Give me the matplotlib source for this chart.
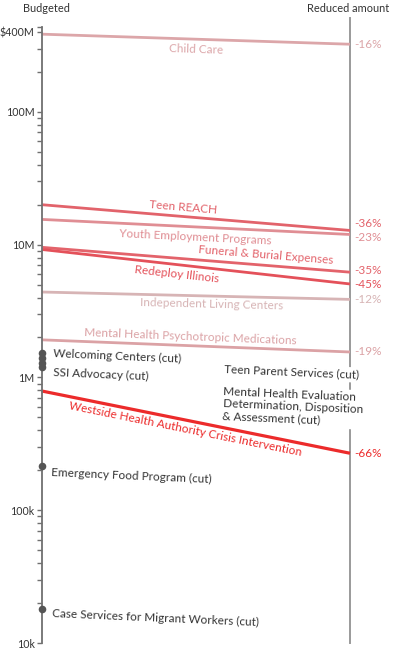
import numpy as np
import matplotlib
matplotlib.use("Agg")
import matplotlib.pyplot as plt
from matplotlib.ticker import FixedLocator, FixedFormatter, NullFormatter

# ---------------- data ----------------
programs = ["Child Care", "Teen REACH", "Youth Employment Programs",
            "Funeral & Burial Expenses", "Redeploy Illinois",
            "Independent Living Centers", "Mental Health Psychotropic Medications",
            "Westside Health Authority Crisis Intervention"]
budgeted = [385e6, 20e6, 15.5e6, 9.55e6, 9.2e6, 4.4e6, 1.92e6, 0.79e6]
pct_change = [-16, -36, -23, -35, -45, -12, -19, -66]

cut_programs = ["Welcoming Centers (cut)", "SSI Advocacy (cut)",
                "Teen Parent Services (cut)",
                "Mental Health Evaluation\nDetermination, Disposition\n& Assessment (cut)",
                "Emergency Food Program (cut)",
                "Case Services for Migrant Workers (cut)"]
cut_budgeted = [1.53e6, 1.40e6, 1.28e6, 1.20e6, 215e3, 18e3]

tick_values = [1e4, 1e5, 1e6, 1e7, 1e8, 4e8]
tick_labels = ["10k", "100k", "1M", "10M", "100M", "$400M"]

# ---------------- styles ----------------
line_colors = ["#dca6a9", "#e2636b", "#e08e94", "#e3636b", "#e4515a",
               "#d7b4b5", "#dba2a5", "#ec2b2b"]
line_widths = [2.0, 2.0, 2.0, 2.0, 2.0, 2.0, 2.0, 2.3]
# label placement: fraction along line, perpendicular offset (px, + = above)
label_t = [0.50, 0.455, 0.50, 0.725, 0.44, 0.55, 0.48, 0.47]
label_off = [-10, 9, -10, 10, -10, -8, 9, -9]
pct_dy = [0, 7, -3, 2, -1, 0, 0, 0]
# cut label offsets in px (dx, dy; + dy = up)
cut_off = [(11, -1), (11, -14), (182, -6), (181, -37), (9, -6), (10, -4)]
cut_mask = [False, False, True, True, False, False]

plt.rcParams["font.family"] = ["Lato", "DejaVu Sans"]
PX = 72 / 100.0
FS = 8.5

W, H = 395, 652
fig = plt.figure(figsize=(W / 100, H / 100), dpi=100)
fig.patch.set_facecolor("white")
ax = fig.add_axes([42 / W, 9 / H, 308 / W, 616 / H])
ax.set_facecolor("none")
ax.set_yscale("log")
ax.set_xlim(0, 1)
ax.set_ylim(1e4, 4.36e8)

for s in ["top", "bottom", "right"]:
    ax.spines[s].set_visible(False)
ax.spines["left"].set_color("#707070")
ax.spines["left"].set_linewidth(1.3)
ax.xaxis.set_visible(False)

ax.yaxis.set_major_locator(FixedLocator(tick_values))
ax.yaxis.set_major_formatter(FixedFormatter(tick_labels))
minor = [k * 10 ** e for e in range(4, 9) for k in range(2, 10)
         if k * 10 ** e < 4.36e8 and k * 10 ** e != 4e8] + [4.36e8]
ax.yaxis.set_minor_locator(FixedLocator(minor))
ax.yaxis.set_minor_formatter(NullFormatter())
ax.tick_params(axis="y", which="both", direction="out", length=3.8, width=1.0,
               color="#707070", labelsize=7.7, labelcolor="#333333", pad=1.5)

# right axis
ax.axvline(1, ymin=0, ymax=(643 - 18) / 616, color="#9a9a9a", lw=1.4,
           clip_on=False, zorder=1)

fig.canvas.draw()

def disp(x, y):
    return ax.transData.transform((x, y))

for name, b, p, c, lw, t, off, pdy in zip(programs, budgeted, pct_change, line_colors,
                                        line_widths, label_t, label_off, pct_dy):
    r = b * (1 + p / 100.0)
    ax.plot([0, 1], [b, r], color=c, lw=lw, solid_capstyle="butt", zorder=2,
            clip_on=False)
    p0, p1 = disp(0, b), disp(1, r)
    ang = np.degrees(np.arctan2(p1[1] - p0[1], p1[0] - p0[0]))
    ym = 10 ** (np.log10(b) + t * (np.log10(r) - np.log10(b)))
    th = np.radians(ang)
    dx, dy = -np.sin(th) * off * PX, np.cos(th) * off * PX
    ax.annotate(name, xy=(t, ym), xytext=(dx, dy), textcoords="offset points",
                ha="center", va="center", rotation=ang, rotation_mode="anchor",
                color=c, fontsize=FS, zorder=3, annotation_clip=False)
    ax.annotate(f"-{abs(p)}%", xy=(1, r), xytext=(4 * PX, pdy * PX),
                textcoords="offset points", ha="left", va="center",
                color=c, fontsize=FS, zorder=3, annotation_clip=False)

ax.scatter([0] * len(cut_budgeted), cut_budgeted, s=30, color="#555555",
           zorder=4, clip_on=False, linewidths=0)

for name, v, (ox, oy), m in zip(cut_programs, cut_budgeted, cut_off, cut_mask):
    kw = {}
    if m:
        kw["bbox"] = dict(facecolor="white", edgecolor="none", pad=1.5)
    ax.annotate(name, xy=(0, v), xytext=(ox * PX, oy * PX), textcoords="offset points",
                ha="left", va="center", rotation=-2.5, rotation_mode="anchor",
                color="#333333", fontsize=FS, zorder=5, annotation_clip=False,
                linespacing=1.12, **kw)

fig.text(46 / W, 1 - 9 / H, "Budgeted", ha="center", va="center",
         fontsize=7.9, color="#333333")
fig.text(348 / W, 1 - 9 / H, "Reduced amount", ha="center", va="center",
         fontsize=7.9, color="#333333")

fig.savefig("out.png", dpi=100, facecolor="white")
